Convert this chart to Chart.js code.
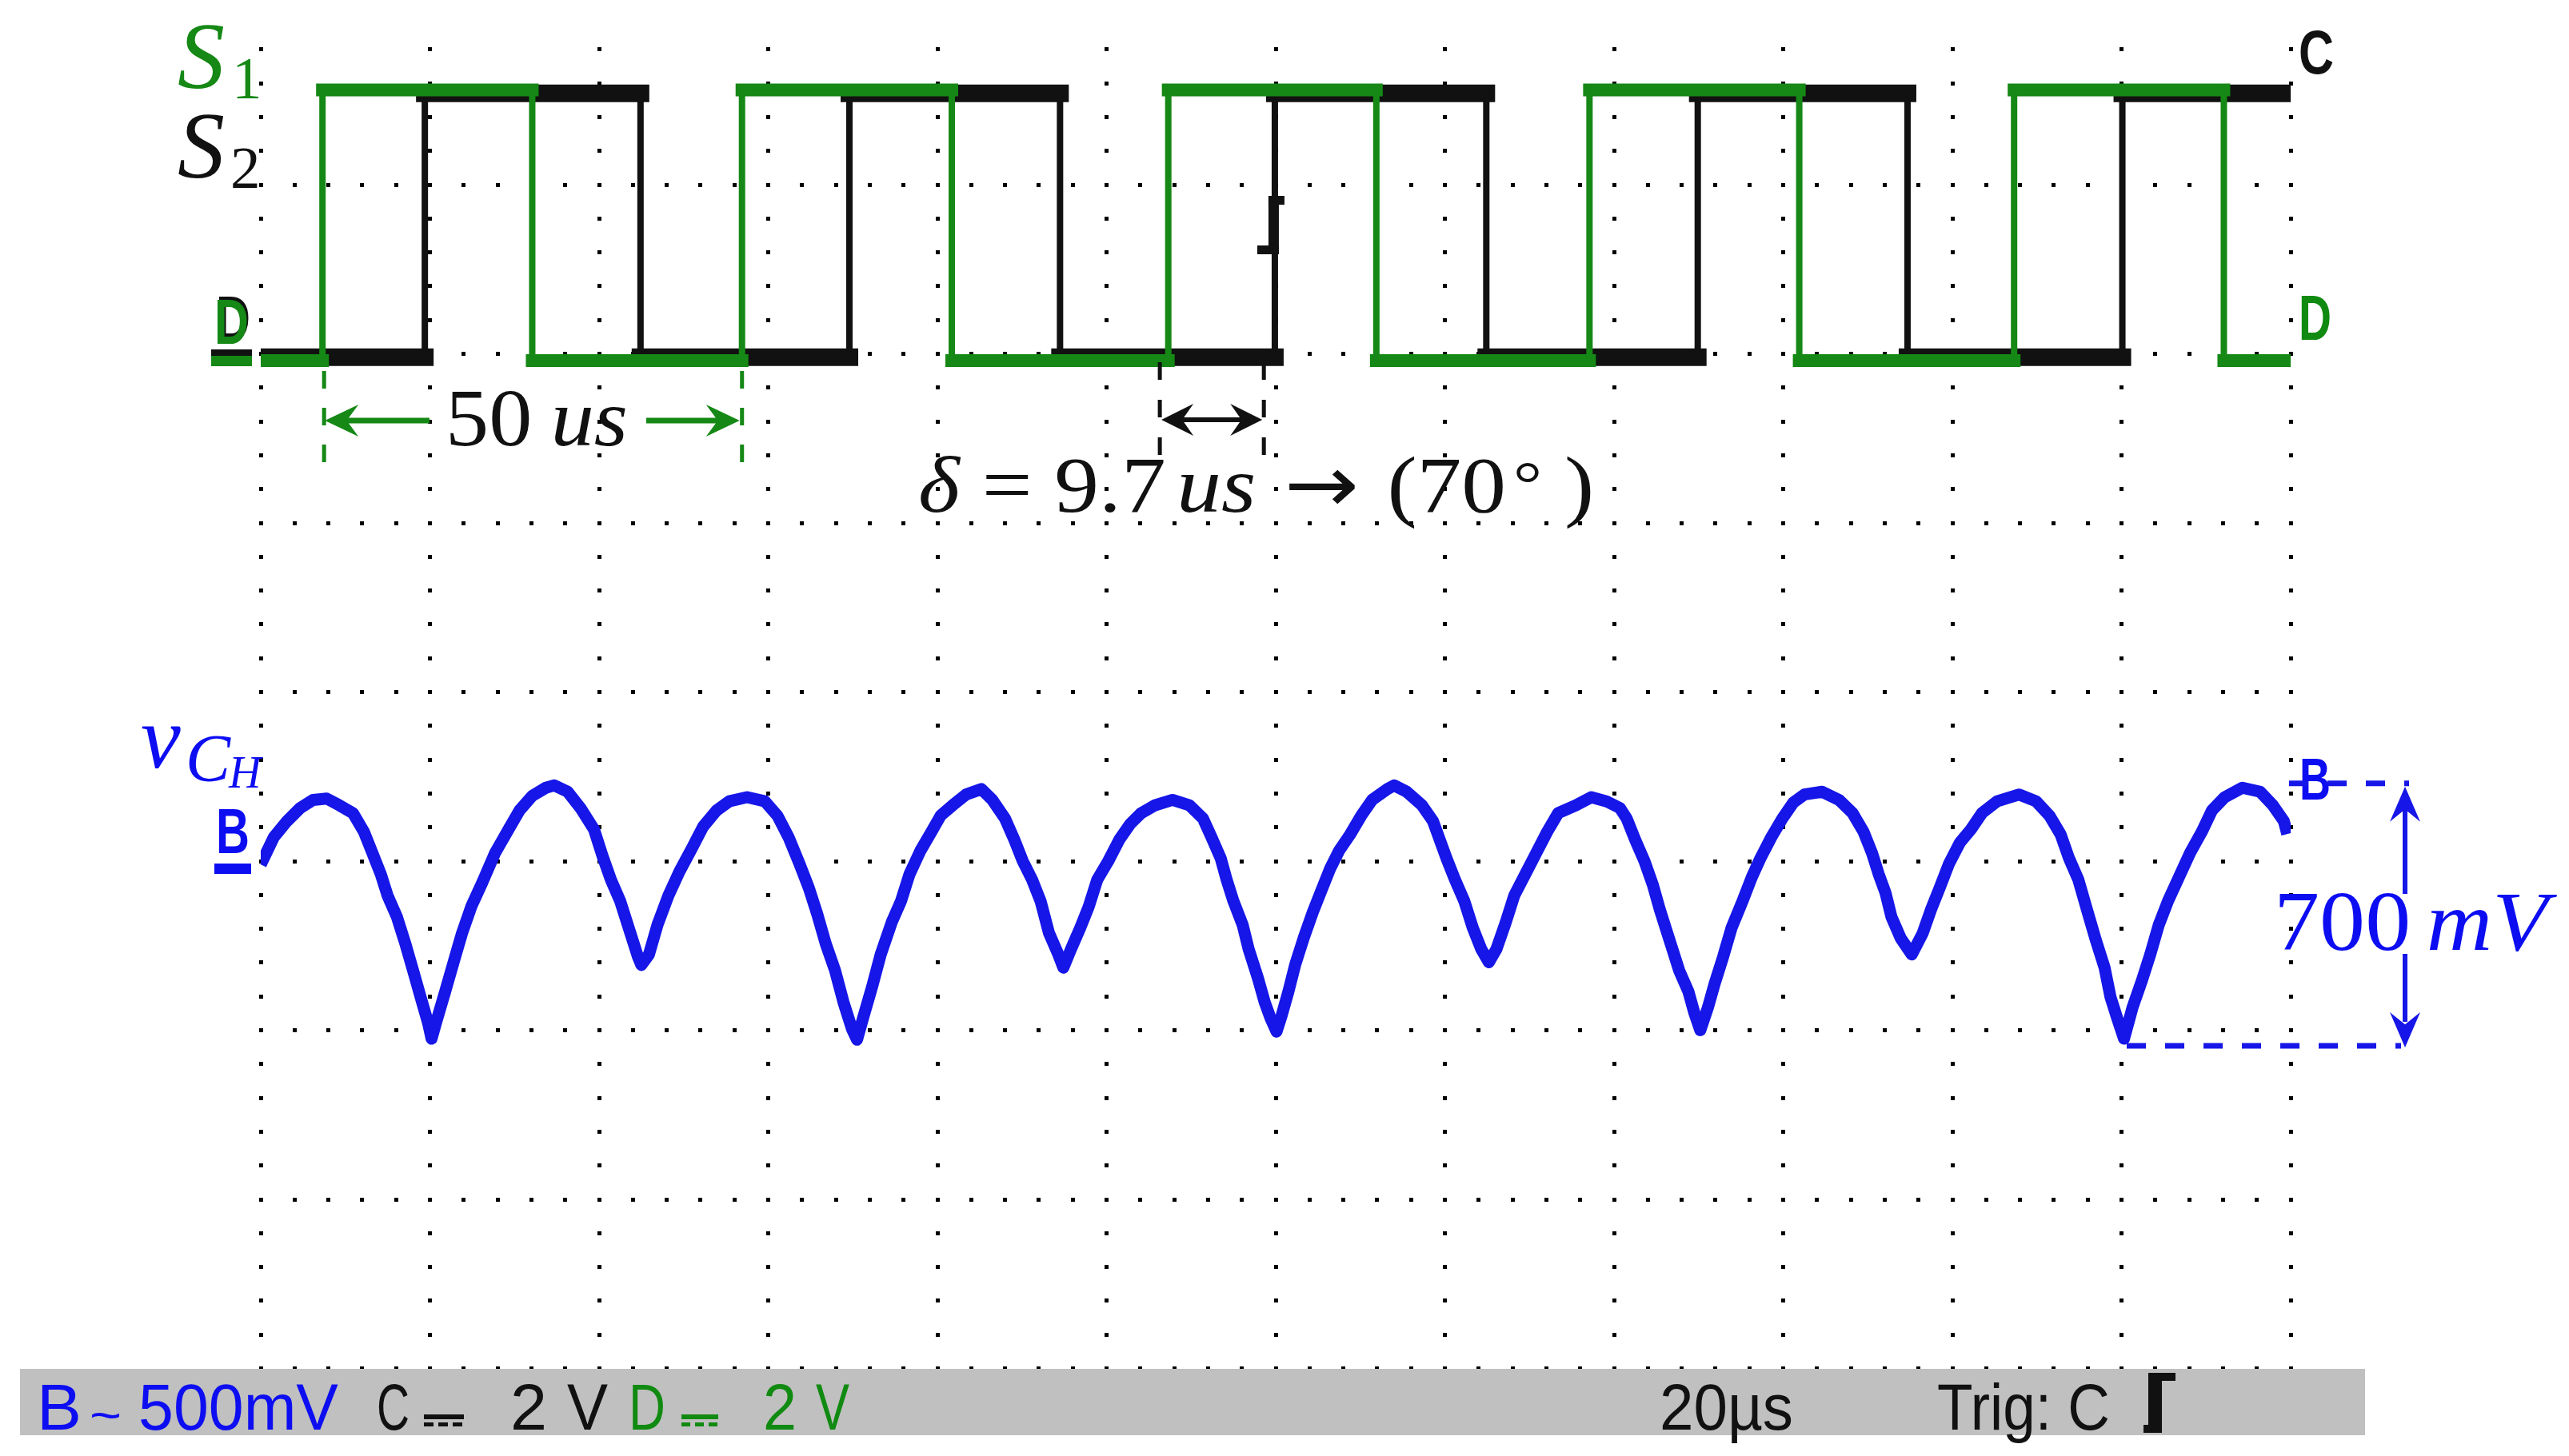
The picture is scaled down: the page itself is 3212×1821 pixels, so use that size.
<!DOCTYPE html>
<html><head><meta charset="utf-8">
<script src="https://cdn.jsdelivr.net/npm/chart.js@4.4.1/dist/chart.umd.min.js"></script>
<style>html,body{margin:0;padding:0;background:#fff;}canvas{display:block;}</style>
</head><body>
<canvas id="scope" width="3212" height="1821" style="width:3212px;height:1821px"></canvas>
<script>
// ---------------- data ----------------
// time axis: 20 us / div, 12 divisions
const timeRangeUs = [0, 240];
// channel D (S1, green) : switching instants in us, levels in V (low, high)
const dEdgesUs = [7.3, 32.1, 56.9, 81.7, 107.3, 131.9, 157.1, 181.9, 207.3, 232.1];
const dLevelsV = [-0.08, 3.12];
// channel C (S2, black)
const cEdgesUs = [19.4, 44.9, 69.6, 94.5, 119.9, 144.9, 169.9, 194.7, 220.1];
const cLevelsV = [-0.04, 3.08];
// channel B (v_CH, blue, AC coupled) : time in us, voltage in mV
const bTimeUs = [0,1.55,3.1,4.66,6.2,7.8,9.3,10.9,12.2,13.2,14.2,15.0,16.1,17.1,18.1,18.9,19.8,20.2,20.7,21.8,22.8,23.8,24.9,26.2,27.7,29.3,30.6,32.1,33.7,34.7,36.3,37.8,39.4,40.4,41.4,42.5,43.5,44.6,45.0,45.9,46.9,48.2,49.5,51.0,52.3,53.9,55.4,57.5,59.6,61.1,62.4,63.7,64.8,65.8,66.8,67.9,68.9,69.9,70.5,71.2,72.3,73.3,74.6,75.7,76.7,78.0,79.3,80.4,81.8,83.4,85.2,86.5,88.0,89.1,90.1,91.2,92.2,93.2,94.3,94.9,95.8,96.9,97.9,98.9,100.2,101.5,102.8,104.1,105.7,107.8,109.8,111.4,112.4,113.5,114.2,115.0,116.1,116.8,117.9,118.7,119.4,120.1,120.7,121.5,122.3,123.3,124.4,125.4,126.4,127.5,128.8,130.1,131.4,133.2,134.0,135.5,137.3,138.6,139.4,140.2,141.2,142.3,143.3,144.3,145.2,146.1,147.2,148.2,149.5,150.8,152.1,153.4,155.5,157.3,159.1,160.7,161.5,162.5,163.6,164.6,165.4,166.2,166.9,167.7,168.8,169.5,170.2,171.1,171.9,172.9,173.9,175.2,176.3,177.3,178.6,179.9,181.2,182.5,184.6,186.6,188.2,189.5,190.5,191.3,192.1,192.8,193.9,195.2,196.5,197.5,198.5,199.6,200.9,202.2,203.5,205.3,207.9,209.9,211.5,212.8,213.8,214.9,215.9,216.9,218.0,218.7,219.5,220.3,221.3,222.4,223.4,224.4,225.5,226.8,228.1,229.5,230.7,232.2,234.3,236.4,237.9,239.2,239.6];
const bVoltageMv = [-10,71,118,157,181,185,165,142,87,24,-39,-102,-165,-244,-331,-402,-480,-525,-480,-386,-299,-213,-134,-63,24,94,150,193,217,224,205,157,94,16,-55,-118,-197,-283,-307,-276,-189,-102,-31,39,102,150,177,189,177,134,71,-8,-79,-157,-244,-323,-417,-496,-528,-465,-370,-276,-181,-118,-39,31,87,135,165,197,213,181,126,63,0,-55,-118,-213,-276,-315,-260,-197,-134,-55,0,63,110,142,165,181,165,126,71,8,-55,-118,-189,-260,-346,-417,-465,-504,-457,-386,-307,-228,-150,-87,-24,31,79,134,181,213,224,205,165,118,63,8,-55,-118,-197,-260,-299,-260,-181,-102,-39,24,87,142,165,189,177,157,126,63,0,-71,-142,-205,-260,-323,-386,-449,-500,-433,-362,-283,-197,-118,-47,8,71,126,173,197,205,181,142,87,24,-39,-94,-165,-228,-276,-213,-142,-79,-8,55,94,142,177,197,177,134,79,8,-55,-142,-228,-315,-402,-465,-525,-433,-354,-276,-189,-118,-47,24,87,150,189,217,205,165,118,80];
// annotation values
const periodLabel = ['50', 'us'];
const deltaLabel = ['\u03B4', ' = ', '9.7', 'us', ' \u2192 ', '(70', '\u00B0', ' )'];
const rippleLabel = ['700', 'mV'];
const ripplePeakMv = 230, rippleValleyMv = -546;
const statusB = ['B', '500mV'], statusC = ['C', '2', 'V'], statusD = ['D', '2', 'V'];
const statusTime = '20\u00B5s', statusTrig = 'Trig: C';

// ---------------- styles ----------------
const GREEN = '#158815', BLACK = '#111111', BLUE = '#1616e8';
const TXT_BLUE = '#0d0df2', TXT_GREEN = '#118a11';
const SERIF = '"Liberation Serif","DejaVu Serif",serif';
const SANS = '"Liberation Sans","DejaVu Sans",sans-serif';

function squareWave(edges, levels) {
  const pts = [];
  let lvl = 0;
  pts.push({x: timeRangeUs[0], y: levels[lvl]});
  edges.forEach(t => {
    pts.push({x: t, y: levels[lvl]});
    lvl = 1 - lvl;
    pts.push({x: t, y: levels[lvl]});
  });
  pts.push({x: 239.8, y: levels[lvl]});
  return pts;
}
const dPoints = squareWave(dEdgesUs, dLevelsV);
const cPoints = squareWave(cEdgesUs, cLevelsV);
const bPoints = bTimeUs.map((t, i) => ({x: t, y: bVoltageMv[i]}));

function segWidth(vert, horiz) {
  return ctx => (Math.abs(ctx.p0.x - ctx.p1.x) < 0.5 ? vert : horiz);
}

// ---------------- drawing helpers ----------------
function drawRuns(ctx, x, y, runs, targetW) {
  const widths = runs.map(r => { ctx.font = r.font; return ctx.measureText(r.t).width + (r.gap || 0); });
  const total = widths.reduce((a, b) => a + b, 0);
  const sx = targetW ? targetW / total : 1;
  ctx.save();
  ctx.translate(x, y);
  ctx.scale(sx, 1);
  ctx.textBaseline = 'alphabetic';
  ctx.textAlign = 'left';
  let cx = 0;
  runs.forEach((r, i) => {
    ctx.font = r.font;
    ctx.fillStyle = r.color;
    ctx.fillText(r.t, cx, r.dy || 0);
    cx += widths[i];
  });
  ctx.restore();
}
function fitText(ctx, t, x, y, font, color, w) {
  drawRuns(ctx, x, y, [{t, font, color}], w);
}
function arrowHead(ctx, tx, ty, dx, dy, L, W) {
  const bx = tx - dx * L, by = ty - dy * L, px = -dy, py = dx;
  ctx.beginPath();
  ctx.moveTo(tx, ty);
  ctx.lineTo(bx + px * W, by + py * W);
  ctx.lineTo(tx - dx * L * 0.65, ty - dy * L * 0.65);
  ctx.lineTo(bx - px * W, by - py * W);
  ctx.closePath();
  ctx.fill();
}
function line(ctx, x1, y1, x2, y2, w, color, dash) {
  ctx.save();
  ctx.strokeStyle = color; ctx.lineWidth = w; ctx.setLineDash(dash || []);
  ctx.beginPath(); ctx.moveTo(x1, y1); ctx.lineTo(x2, y2); ctx.stroke();
  ctx.restore();
}

// ---------------- plugins ----------------
const gridPlugin = {
  id: 'scopeGrid',
  beforeDatasetsDraw(chart) {
    const {ctx, scales: {x, yCD}} = chart;
    ctx.save();
    ctx.fillStyle = '#000';
    const s = 5;
    for (let i = 0; i <= 12; i++) {            // vertical division lines
      const px = x.getPixelForValue(i * 20);
      for (let k = 1; k <= 40; k++) {
        const py = yCD.getPixelForValue(4 - 0.4 * k);
        ctx.fillRect(Math.round(px - s / 2), Math.round(py - s / 2), s, s);
      }
    }
    for (let j = 1; j <= 8; j++) {             // horizontal division lines
      const py = yCD.getPixelForValue(4 - 2 * j);
      for (let k = 0; k <= 60; k++) {
        const px = x.getPixelForValue(k * 4);
        ctx.fillRect(Math.round(px - s / 2), Math.round(py - s / 2), s, s);
      }
    }
    ctx.restore();
  }
};

const annotPlugin = {
  id: 'scopeAnnot',
  afterDraw(chart) {
    const {ctx, scales: {x, yCD, yB}} = chart;
    ctx.save();

    // trigger marker on C trace
    ctx.fillStyle = BLACK;
    const tx = x.getPixelForValue(cEdgesUs[4]);
    ctx.fillRect(tx - 8, 245, 13, 73);
    ctx.fillRect(tx - 8, 245, 20, 11);
    ctx.fillRect(tx - 22, 307, 27, 11);

    // ---- trace labels ----
    drawRuns(ctx, 222, 110, [{t: 'S', font: `italic 118px ${SERIF}`, color: GREEN}], 0);
    drawRuns(ctx, 290, 123, [{t: '1', font: `75px ${SERIF}`, color: GREEN}], 0);
    drawRuns(ctx, 222, 222, [{t: 'S', font: `italic 118px ${SERIF}`, color: BLACK}], 0);
    drawRuns(ctx, 288, 235, [{t: '2', font: `75px ${SERIF}`, color: BLACK}], 0);
    drawRuns(ctx, 176, 960, [{t: 'v', font: `italic 112px ${SERIF}`, color: TXT_BLUE}], 0);
    drawRuns(ctx, 232, 977, [{t: 'C', font: `italic 84px ${SERIF}`, color: TXT_BLUE}], 0);
    drawRuns(ctx, 286, 985, [{t: 'H', font: `italic 56px ${SERIF}`, color: TXT_BLUE}], 0);

    // ---- channel markers ----
    const MK = `bold 80px ${SANS}`;
    fitText(ctx, 'D', 270, 426, MK, BLACK, 43);
    fitText(ctx, 'D', 268, 430, MK, GREEN, 43);
    ctx.fillStyle = BLACK; ctx.fillRect(264, 437, 51, 8);
    ctx.fillStyle = GREEN; ctx.fillRect(264, 445, 51, 13);
    fitText(ctx, 'B', 270, 1067, MK, TXT_BLUE, 42);
    ctx.fillStyle = TXT_BLUE; ctx.fillRect(268, 1080, 46, 13);
    fitText(ctx, 'C', 2874, 92, `bold 77px ${SANS}`, BLACK, 44);
    fitText(ctx, 'D', 2874, 425, `bold 79px ${SANS}`, TXT_GREEN, 41);
    fitText(ctx, 'B', 2875, 1000, `bold 74px ${SANS}`, TXT_BLUE, 39);

    // ---- 50 us period annotation ----
    const xa = x.getPixelForValue(dEdgesUs[0]), xb = x.getPixelForValue(dEdgesUs[2]);
    line(ctx, xa + 2, 464, xa + 2, 580, 5, GREEN, [22, 24]);
    line(ctx, xb, 464, xb, 580, 5, GREEN, [22, 24]);
    ctx.fillStyle = GREEN;
    line(ctx, xa + 25, 526, 537, 526, 7, GREEN);
    arrowHead(ctx, xa + 3, 526, -1, 0, 42, 20);
    line(ctx, 808, 526, xb - 25, 526, 7, GREEN);
    arrowHead(ctx, xb - 3, 526, 1, 0, 42, 20);
    drawRuns(ctx, 557, 557, [
      {t: periodLabel[0], font: `102px ${SERIF}`, color: BLACK, gap: 22},
      {t: periodLabel[1], font: `italic 102px ${SERIF}`, color: BLACK}
    ], 228);

    // ---- delta annotation ----
    const xd1 = x.getPixelForValue(106.3), xd2 = x.getPixelForValue(118.6);
    line(ctx, xd1, 453, xd1, 570, 5, BLACK, [22, 25]);
    line(ctx, xd2, 453, xd2, 570, 5, BLACK, [22, 25]);
    ctx.fillStyle = BLACK;
    line(ctx, xd1 + 20, 525, xd2 - 20, 525, 6, BLACK);
    arrowHead(ctx, xd1 + 2, 525, -1, 0, 40, 20);
    arrowHead(ctx, xd2 - 2, 525, 1, 0, 40, 20);
    const F = 99;
    drawRuns(ctx, 1148, 640, [
      {t: deltaLabel[0], font: `italic ${F}px ${SERIF}`, color: BLACK},
      {t: deltaLabel[1], font: `${F}px ${SERIF}`, color: BLACK},
      {t: deltaLabel[2], font: `${F}px ${SERIF}`, color: BLACK, gap: 12},
      {t: deltaLabel[3], font: `italic ${F}px ${SERIF}`, color: BLACK},
      {t: deltaLabel[4], font: `${F}px "DejaVu Sans",sans-serif`, color: BLACK},
      {t: deltaLabel[5], font: `${F}px ${SERIF}`, color: BLACK, gap: 8},
      {t: deltaLabel[6], font: `80px ${SERIF}`, color: BLACK, dy: -8},
      {t: deltaLabel[7], font: `${F}px ${SERIF}`, color: BLACK}
    ], 845);

    // ---- 700 mV ripple annotation ----
    const yTop = yB.getPixelForValue(ripplePeakMv), yBot = yB.getPixelForValue(rippleValleyMv);
    const xr = 3007;
    line(ctx, 2862, yTop, 3012, yTop, 7, BLUE, [24, 24]);
    line(ctx, 2659, yBot, 3002, yBot, 7, BLUE, [24, 24]);
    ctx.fillStyle = BLUE;
    line(ctx, xr, 1118, xr, yTop + 30, 6, BLUE);
    arrowHead(ctx, xr, yTop + 4, 0, -1, 44, 19);
    line(ctx, xr, 1193, xr, yBot - 30, 6, BLUE);
    arrowHead(ctx, xr, yBot + 2, 0, 1, 44, 19);
    drawRuns(ctx, 2843, 1188, [
      {t: rippleLabel[0], font: `105px ${SERIF}`, color: TXT_BLUE, gap: 18},
      {t: rippleLabel[1], font: `italic 105px ${SERIF}`, color: TXT_BLUE}
    ], 343);

    // ---- status bar ----
    ctx.fillStyle = '#c0c0c0';
    ctx.fillRect(25, 1712, 2932, 83);
    const SF = `81px ${SANS}`, BL = 1788;
    fitText(ctx, statusB[0], 46, BL, SF, TXT_BLUE, 56);
    fitText(ctx, '~', 112, 1790, `60px ${SANS}`, TXT_BLUE, 40);
    fitText(ctx, statusB[1], 173, BL, SF, TXT_BLUE, 250);
    fitText(ctx, statusC[0], 471, BL, SF, BLACK, 41);
    ctx.fillStyle = BLACK;
    ctx.fillRect(530, 1769, 50, 6);
    for (let i = 0; i < 3; i++) ctx.fillRect(530 + i * 18, 1779, 12, 5);
    fitText(ctx, statusC[1], 638, BL, SF, BLACK, 46);
    fitText(ctx, statusC[2], 709, BL, SF, BLACK, 51);
    fitText(ctx, statusD[0], 786, BL, SF, TXT_GREEN, 46);
    ctx.fillStyle = TXT_GREEN;
    ctx.fillRect(852, 1769, 46, 6);
    for (let i = 0; i < 3; i++) ctx.fillRect(852 + i * 17, 1779, 11, 5);
    fitText(ctx, statusD[1], 954, BL, SF, TXT_GREEN, 42);
    fitText(ctx, statusD[2], 1020, BL, SF, TXT_GREEN, 42);
    fitText(ctx, statusTime, 2075, BL, SF, BLACK, 167);
    fitText(ctx, statusTrig, 2422, BL, SF, BLACK, 216);
    ctx.fillStyle = BLACK;
    ctx.fillRect(2686, 1717, 17, 75);
    ctx.fillRect(2686, 1717, 34, 10);
    ctx.fillRect(2680, 1782, 23, 10);

    ctx.restore();
  }
};

// ---------------- chart ----------------
new Chart(document.getElementById('scope').getContext('2d'), {
  type: 'line',
  data: {
    datasets: [
      {label: 'B: v_CH', data: bPoints, yAxisID: 'yB', borderColor: BLUE, borderWidth: 15,
       borderJoinStyle: 'round', pointRadius: 0, tension: 0, order: 3},
      {label: 'C: S2', data: cPoints, yAxisID: 'yCD', borderColor: BLACK, borderWidth: 8,
       borderCapStyle: 'square', borderJoinStyle: 'miter', pointRadius: 0, tension: 0, order: 2,
       segment: {borderWidth: segWidth(8, 22)}},
      {label: 'D: S1', data: dPoints, yAxisID: 'yCD', borderColor: GREEN, borderWidth: 8,
       borderCapStyle: 'square', borderJoinStyle: 'miter', pointRadius: 0, tension: 0, order: 1,
       segment: {borderWidth: segWidth(8, 16)}}
    ]
  },
  options: {
    responsive: false,
    animation: false,
    devicePixelRatio: 1,
    layout: {padding: {left: 326, right: 348, top: 19.5, bottom: 109.5}},
    plugins: {legend: {display: false}, tooltip: {enabled: false}, title: {display: false}},
    scales: {
      x: {type: 'linear', min: timeRangeUs[0], max: timeRangeUs[1], display: false},
      yCD: {type: 'linear', min: -12, max: 4, display: false},
      yB: {type: 'linear', min: -1500, max: 2500, display: false}
    }
  },
  plugins: [gridPlugin, annotPlugin]
});
</script>
</body></html>
